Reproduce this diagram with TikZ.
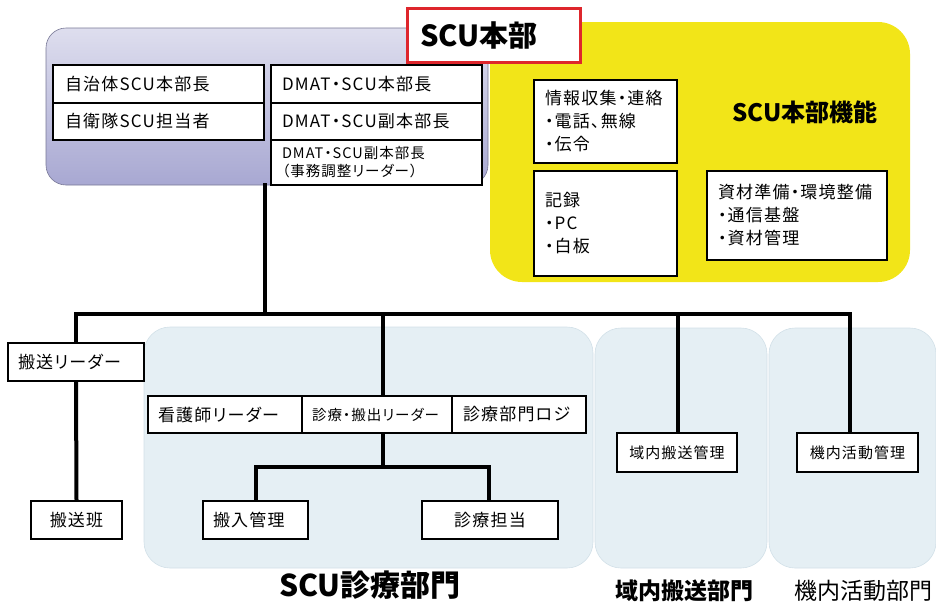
\documentclass[tikz,border=0pt]{standalone}
\usepackage{fontspec}
\newfontfamily\jp[RawFeature=+palt]{Noto Sans CJK JP}
\newfontfamily\jps[RawFeature=+palt, LetterSpace=7]{Noto Sans CJK JP}
\definecolor{hqtop}{RGB}{222,222,238}
\definecolor{hqbot}{RGB}{168,168,210}
\definecolor{hqline}{RGB}{120,120,150}
\definecolor{yel}{RGB}{242,229,24}
\definecolor{lblue}{RGB}{229,239,244}
\definecolor{lblueline}{RGB}{210,224,232}
\definecolor{redline}{RGB}{222,38,44}
\pgfdeclarelayer{back}
\pgfdeclarelayer{mid}
\pgfsetlayers{back,mid,main}
\tikzset{
  box/.style={draw=black, line width=2.5pt, fill=white, inner ysep=0pt, align=left,
    font=\jps\fontsize{17}{23}\selectfont},
  cbox/.style={box, align=center, inner xsep=0pt},
  small/.style={font=\jps\fontsize{14.5}{18}\selectfont},
  region/.style={inner sep=0pt, rounded corners=#1},
  conn/.style={line width=4pt, line cap=rect, line join=miter},
  lbl/.style={inner sep=0pt, font=\jp\bfseries\fontsize{#1}{#1}\selectfont},
}
\begin{document}
\begin{tikzpicture}[x=1pt, y=-1pt]
\useasboundingbox (0,0) rectangle (936,608);
% regions
\begin{pgfonlayer}{back}
\node[region=20pt, draw=hqline, line width=0.6pt, top color=hqtop, bottom color=hqbot,
  minimum width=442pt, minimum height=157pt] (hq) at (267,106.5) {};
\node[region=32pt, fill=yel, minimum width=420pt, minimum height=260pt] (yel) at (700,152) {};
\node[region=26pt, draw=lblueline, line width=0.6pt, fill=lblue, minimum width=449pt, minimum height=241pt] (bl1) at (368.5,447.5) {};
\node[region=26pt, draw=lblueline, line width=0.6pt, fill=lblue, minimum width=172pt, minimum height=240pt] (bl2) at (681,448) {};
\node[region=26pt, draw=lblueline, line width=0.6pt, fill=lblue, minimum width=167pt, minimum height=240pt] (bl3) at (852.5,448) {};
\end{pgfonlayer}
\node[draw=redline, line width=3pt, fill=white, text width=147pt, inner xsep=13pt, inner ysep=0pt,
  minimum height=54pt, align=left,
  font=\jp\bfseries\fontsize{29}{29}\selectfont] (red) at (493.5,35) {SCU本部};
% coordinates of the bus
\coordinate (j0) at (265,314);
\coordinate (vb) at (76,314);
\coordinate (vn) at (383,314);
\coordinate (vr1) at (678,314);
\coordinate (vr2) at (850,314);
\coordinate (s0) at (383,467);
\coordinate (sl) at (256,467);
\coordinate (sr) at (489,467);
% boxes
\node[box, text width=187pt, inner xsep=12pt, minimum height=38pt] (a1) at (158.5,84) {自治体SCU本部長};
\node[box, text width=187pt, inner xsep=12pt, minimum height=37pt] (a2) at (158.5,121.5) {自衛隊SCU担当者};
\node[box, text width=189pt, inner xsep=11pt, minimum height=38pt] (d1) at (376.5,84) {DMAT・SCU本部長};
\node[box, text width=189pt, inner xsep=11pt, minimum height=37pt] (d2) at (376.5,121.5) {DMAT・SCU副本部長};
\node[box, small, text width=189pt, inner xsep=11pt, minimum height=45pt] (d3) at (376.5,162.5) {DMAT・SCU副本部長\\（事務調整リーダー）};
\node[box, text width=121pt, inner xsep=11pt, minimum height=83pt] (y1) at (605.5,121.5) {情報収集・連絡\\・電話、無線\\・伝令};
\node[box, text width=121pt, inner xsep=11pt, minimum height=105pt] (y2) at (605.5,223.5) {記録\\・PC\\・白板};
\node[box, text width=158pt, inner xsep=11pt, minimum height=89pt] (y3) at (797,215.5) {資材準備・環境整備\\・通信基盤\\・資材管理};
\node[lbl=24] (fn) at (805,112) {SCU本部機能};
% lower boxes
\node[box, text width=116pt, inner xsep=10pt, minimum height=38pt] (b0) at (76,362) {搬送リーダー};
\node[cbox, minimum width=91pt, minimum height=38pt] (b1) at (76.5,520) {搬送班};
\node[box, text width=134pt, inner xsep=10pt, minimum height=37pt] (n1) at (225,414.5) {看護師リーダー};
\node[box, small, text width=130pt, inner xsep=10pt, minimum height=37pt] (n2) at (377,414.5) {診療・搬出リーダー};
\node[box, text width=112pt, inner xsep=11pt, minimum height=37pt] (n3) at (519,414.5) {診療部門ロジ};
\node[box, text width=85pt, inner xsep=10pt, minimum height=38pt] (m1) at (255.5,520) {搬入管理};
\node[cbox, minimum width=136pt, minimum height=38pt] (m2) at (490,520) {診療担当};
\node[cbox, minimum width=120pt, minimum height=39pt, font=\jps\fontsize{15}{18}\selectfont] (r1) at (677,452.5) {域内搬送管理};
\node[cbox, minimum width=121pt, minimum height=39pt, font=\jps\fontsize{15}{18}\selectfont] (r2) at (857.5,452.5) {機内活動管理};
% connectors
\begin{pgfonlayer}{mid}
\draw[conn] (hq.south -| j0) -- (j0);
\draw[conn] (vb |- b0.north) -- (vb) -- (vr2) -- (vr2 |- r2.north);
\draw[conn] (vn) -- (vn |- n2.north);
\draw[conn] (vr1) -- (vr1 |- r1.north);
\draw[conn] (b0.south) -- (b1.north);
\draw[conn] (s0 |- n2.south) -- (s0);
\draw[conn] (sl |- m1.north) -- (sl) -- (sr) -- (sr |- m2.north);
\end{pgfonlayer}
% labels
\node[lbl=30] (l1) at (370,585) {SCU診療部門};
\node[lbl=23] (l2) at (684,591) {域内搬送部門};
\node[inner sep=0pt, font=\jp\fontsize{23}{23}\selectfont] (l3) at (863,591) {機内活動部門};
\end{tikzpicture}
\end{document}
